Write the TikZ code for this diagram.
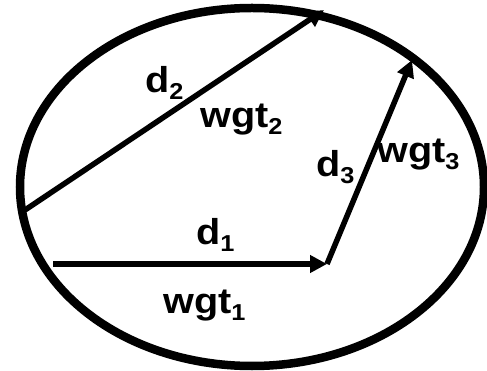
\documentclass[tikz,border=0pt]{standalone}
\usepackage{fontspec}
\setmainfont{Liberation Sans}[FakeStretch=1.1]
\usetikzlibrary{arrows.meta}
\newcommand\mysub[1]{\raisebox{-7pt}{\fontsize{23}{23}\selectfont\bfseries #1}}
\tikzset{
  vec/.style={line width=5.5pt, -{Triangle[length=17pt,width=17pt]}},
  lab/.style={anchor=base west, inner sep=0pt, font=\fontsize{36}{36}\selectfont\bfseries}
}
\begin{document}
\begin{tikzpicture}[x=1pt,y=-1pt]
\useasboundingbox (0,0) rectangle (487,371);
\draw[line width=8.5pt] (252,187) ellipse [x radius=232, y radius=179];
\coordinate (d2s) at (25,210);
\coordinate (d2e) at (324,10);
\coordinate (d1s) at (53,264);
\coordinate (d1e) at (327,264);
\coordinate (d3e) at (412,60);
\draw[vec] (d2s) -- (d2e);
\draw[vec] (d1s) -- (d1e);
\draw[vec] (d1e) -- (d3e);
\node[lab] (d2) at (145,93) {d\mysub{2}};
\node[lab] (w2) at (200,128) {wgt\mysub{2}};
\node[lab] (d3) at (316,177) {d\mysub{3}};
\node[lab] (w3) at (377,163) {wgt\mysub{3}};
\node[lab] (d1) at (196,245) {d\mysub{1}};
\node[lab] (w1) at (163,313) {wgt\mysub{1}};
\end{tikzpicture}
\end{document}
